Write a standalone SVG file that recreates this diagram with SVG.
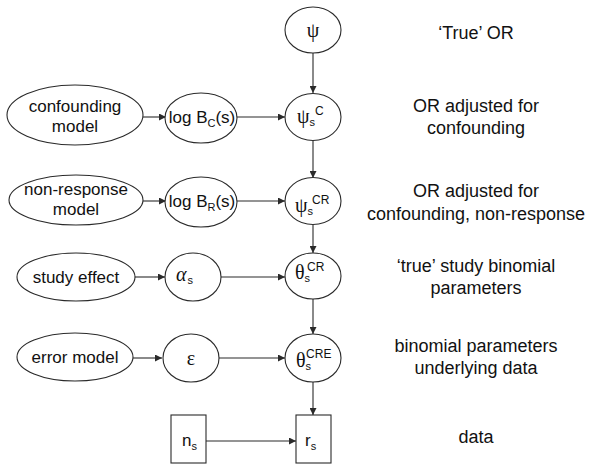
<svg xmlns="http://www.w3.org/2000/svg" width="591" height="465" viewBox="0 0 591 465">
<style>
.n{fill:#fff;stroke:#2a2a2a;stroke-width:1.1}
.c{stroke:#2a2a2a;stroke-width:1.1;fill:none;marker-end:url(#ah)}
text{font-family:"Liberation Sans",Arial,sans-serif;fill:#111}
.t{font-size:17px;text-anchor:middle}
.r{font-size:18px;text-anchor:middle}
.g{font-family:"Liberation Serif","DejaVu Serif",serif;font-size:20px}
.sb{font-family:"Liberation Sans",Arial,sans-serif;font-size:11px}
.sp{font-family:"Liberation Sans",Arial,sans-serif;font-size:12px}
</style>
<defs>
<marker id="ah" markerUnits="userSpaceOnUse" markerWidth="7" markerHeight="7" refX="7" refY="3.5" orient="auto">
<path d="M0,0 L7,3.5 L0,7 z" fill="#2a2a2a"/>
</marker>
</defs>
<g id="connectors">
<line class="c" x1="313" y1="53" x2="313" y2="93"/>
<line class="c" x1="313" y1="140" x2="313" y2="178"/>
<line class="c" x1="313" y1="225" x2="313" y2="253"/>
<line class="c" x1="313" y1="299" x2="313" y2="334"/>
<line class="c" x1="313" y1="382" x2="313" y2="415"/>
<line class="c" x1="143" y1="117" x2="166" y2="117"/>
<line class="c" x1="237" y1="117" x2="285" y2="117"/>
<line class="c" x1="143" y1="201" x2="166" y2="201"/>
<line class="c" x1="237" y1="201" x2="285" y2="201"/>
<line class="c" x1="135" y1="277" x2="165" y2="277"/>
<line class="c" x1="221" y1="277" x2="285" y2="277"/>
<line class="c" x1="133" y1="358" x2="162" y2="358"/>
<line class="c" x1="219" y1="358" x2="285" y2="358"/>
<line class="c" x1="206" y1="441" x2="296" y2="441"/>
</g>
<g id="psi">
<ellipse class="n" cx="313" cy="30" rx="28" ry="23"/>
<text class="g" x="313" y="37" text-anchor="middle">ψ</text>
</g>
<g id="confounding-model">
<ellipse class="n" cx="75" cy="115" rx="68" ry="30"/>
<text class="t" x="75" y="112">confounding</text>
<text class="t" x="75" y="132">model</text>
</g>
<g id="logBC">
<ellipse class="n" cx="201" cy="118" rx="36" ry="25"/>
<text x="202" y="123" font-size="17" text-anchor="middle">log B<tspan font-size="11" dy="4">C</tspan><tspan dy="-4">(s)</tspan></text>
</g>
<g id="psi-s-C">
<ellipse class="n" cx="313" cy="117" rx="28" ry="23.5"/>
<text class="g" x="297" y="123">ψ<tspan class="sb" dy="3">s</tspan><tspan class="sp" dy="-11">C</tspan></text>
</g>
<g id="nonresponse-model">
<ellipse class="n" cx="76" cy="200" rx="67" ry="25"/>
<text class="t" x="76" y="195">non-response</text>
<text class="t" x="76" y="215">model</text>
</g>
<g id="logBR">
<ellipse class="n" cx="201" cy="202" rx="36" ry="25"/>
<text x="202" y="207" font-size="17" text-anchor="middle">log B<tspan font-size="11" dy="4">R</tspan><tspan dy="-4">(s)</tspan></text>
</g>
<g id="psi-s-CR">
<ellipse class="n" cx="313" cy="201" rx="28" ry="23.5"/>
<text class="g" x="295" y="212">ψ<tspan class="sb" dy="3">s</tspan><tspan class="sp" dx="-1" dy="-11">CR</tspan></text>
</g>
<g id="study-effect">
<ellipse class="n" cx="76" cy="277" rx="59" ry="24"/>
<text class="t" x="76" y="283">study effect</text>
</g>
<g id="alpha-s">
<ellipse class="n" cx="193" cy="277" rx="28" ry="24"/>
<text class="g" x="176" y="281" font-style="italic">α<tspan class="sb" font-style="normal" dx="1" dy="3">s</tspan></text>
</g>
<g id="theta-s-CR">
<ellipse class="n" cx="313" cy="276" rx="28" ry="23"/>
<text class="g" x="295" y="279">θ<tspan class="sb" dy="3">s</tspan><tspan class="sp" dx="-3" dy="-11">CR</tspan></text>
</g>
<g id="error-model">
<ellipse class="n" cx="75" cy="357" rx="58" ry="24"/>
<text class="t" x="75" y="363">error model</text>
</g>
<g id="epsilon">
<ellipse class="n" cx="191" cy="358" rx="28" ry="24"/>
<text class="g" x="191" y="365" text-anchor="middle">ε</text>
</g>
<g id="theta-s-CRE">
<ellipse class="n" cx="313" cy="358" rx="28" ry="24"/>
<text class="g" x="296" y="367">θ<tspan class="sb" dy="3">s</tspan><tspan class="sp" dx="-5" dy="-12">CRE</tspan></text>
</g>
<g id="n-s">
<rect class="n" x="171" y="415" width="35" height="48"/>
<text x="182" y="446" font-size="17">n<tspan font-size="11" dy="4">s</tspan></text>
</g>
<g id="r-s">
<rect class="n" x="296" y="415" width="35" height="48"/>
<text x="305" y="446" font-size="17">r<tspan font-size="11" dy="4">s</tspan></text>
</g>
<g id="labels">
<text class="r" x="476" y="39">‘True’ OR</text>
<text class="r" x="476" y="112">OR adjusted for</text>
<text class="r" x="476" y="134">confounding</text>
<text class="r" x="476" y="197">OR adjusted for</text>
<text class="r" x="476" y="220">confounding, non-response</text>
<text class="r" x="476" y="272">‘true’ study binomial</text>
<text class="r" x="476" y="294">parameters</text>
<text class="r" x="476" y="352">binomial parameters</text>
<text class="r" x="476" y="374">underlying data</text>
<text class="r" x="476" y="443">data</text>
</g>
</svg>
